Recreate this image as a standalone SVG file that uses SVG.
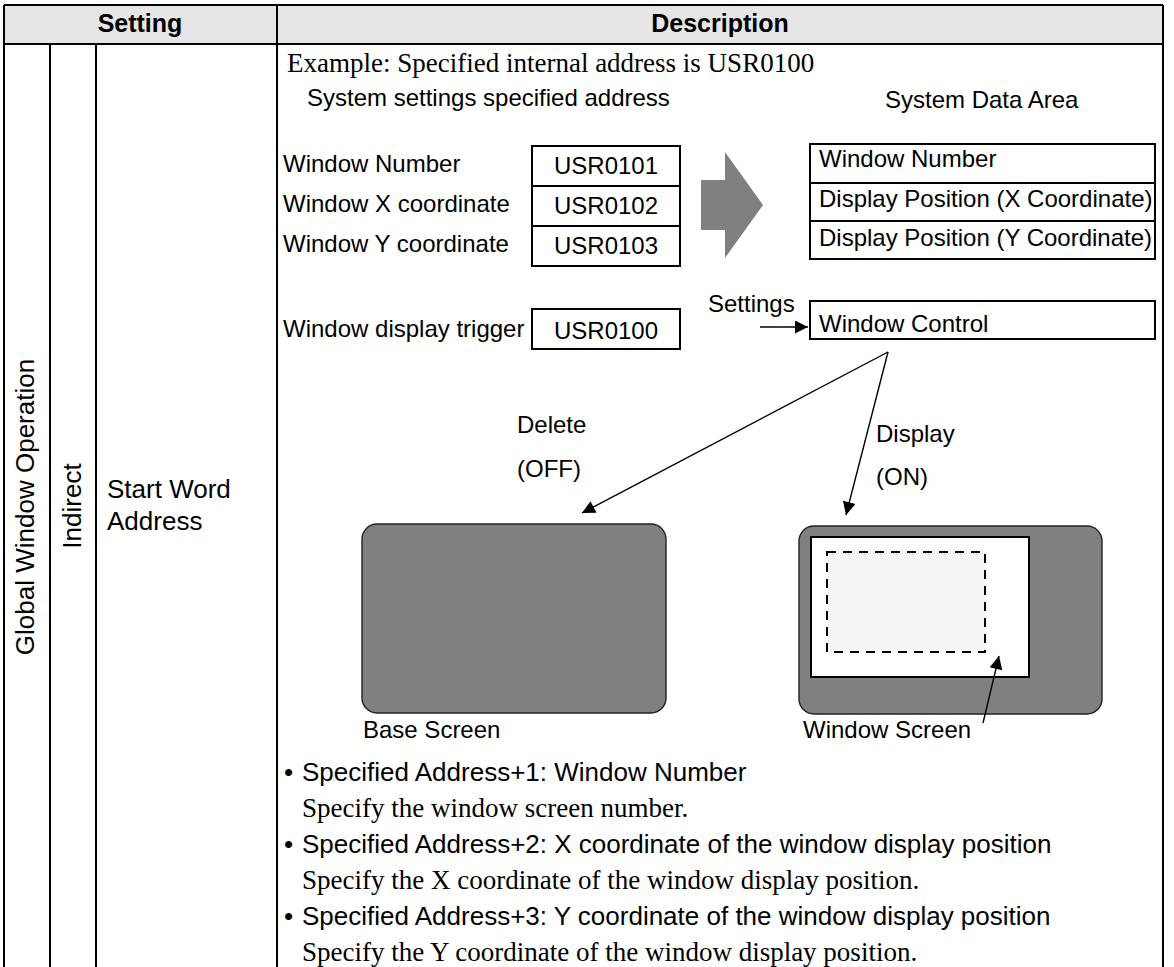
<svg xmlns="http://www.w3.org/2000/svg" width="1174" height="967" viewBox="0 0 1174 967">
<style>
.s{font-family:"Liberation Sans",Arial,sans-serif;font-size:24px;fill:#000}
.b{font-family:"Liberation Sans",Arial,sans-serif;font-size:26px;fill:#000}
.sl{font-family:"Liberation Sans",Arial,sans-serif;font-size:26px;fill:#000}
.h{font-family:"Liberation Sans",Arial,sans-serif;font-size:25px;font-weight:bold;fill:#000}
.r{font-family:"Liberation Serif","Times New Roman",serif;font-size:27px;fill:#000}
.tl{stroke:#000;stroke-width:2;fill:none}
.box{stroke:#000;stroke-width:2;fill:#fff}
.con{stroke:#000;stroke-width:1.4;fill:none}
.scr{fill:#808080;stroke:#222;stroke-width:1.4}
</style>
<defs>
<marker id="ah" viewBox="0 0 10 10" refX="10" refY="5" markerWidth="17" markerHeight="13" markerUnits="userSpaceOnUse" orient="auto"><path d="M0,0 L10,5 L0,10 z" fill="#000"/></marker>
</defs>
<rect width="1174" height="967" fill="#fff"/>
<g id="table">
<rect x="4" y="5" width="1159" height="39" fill="#e6e6e6"/>
<path class="tl" d="M4,5 H1163 M4,44 H1163 M4,5 V967 M1163,5 V967 M277,5 V967 M50,44 V967 M96,44 V967"/>
<text class="h" x="140" y="32" text-anchor="middle">Setting</text>
<text class="h" x="720" y="32" text-anchor="middle">Description</text>
<text class="sl" transform="translate(34,507) rotate(-90)" text-anchor="middle">Global Window Operation</text>
<text class="sl" transform="translate(81,506) rotate(-90)" text-anchor="middle">Indirect</text>
<text class="sl" x="107" y="498">Start Word</text>
<text class="sl" x="107" y="530">Address</text>
</g>
<g id="heading">
<text class="r" x="287" y="72">Example: Specified internal address is USR0100</text>
<text class="s" x="307" y="106">System settings specified address</text>
<text class="s" x="885" y="108">System Data Area</text>
</g>
<g id="specified-address">
<text class="s" x="283" y="172">Window Number</text>
<text class="s" x="283" y="212">Window X coordinate</text>
<text class="s" x="283" y="252">Window Y coordinate</text>
<rect class="box" x="532" y="146" width="148" height="40"/>
<rect class="box" x="532" y="186" width="148" height="40"/>
<rect class="box" x="532" y="226" width="148" height="40"/>
<text class="s" x="606" y="174" text-anchor="middle">USR0101</text>
<text class="s" x="606" y="214" text-anchor="middle">USR0102</text>
<text class="s" x="606" y="254" text-anchor="middle">USR0103</text>
</g>
<g id="trigger">
<text class="s" x="283" y="337">Window display trigger</text>
<rect class="box" x="532" y="309" width="148" height="40"/>
<text class="s" x="606" y="339" text-anchor="middle">USR0100</text>
</g>
<g id="big-arrow">
<path d="M701,180 H725 V152 L763,205 L725,258 V230 H701 Z" fill="#808080"/>
</g>
<g id="system-data-area">
<rect class="box" x="810" y="144" width="345" height="39"/>
<rect class="box" x="810" y="183" width="345" height="38"/>
<rect class="box" x="810" y="221" width="345" height="38"/>
<text class="s" x="819" y="167">Window Number</text>
<text class="s" x="819" y="207">Display Position (X Coordinate)</text>
<text class="s" x="819" y="246">Display Position (Y Coordinate)</text>
</g>
<g id="window-control">
<rect class="box" x="810" y="301" width="345" height="38"/>
<text class="s" x="819" y="332">Window Control</text>
</g>
<g id="base-screen">
<rect class="scr" x="362" y="524" width="304" height="189" rx="15"/>
<text class="s" x="363" y="738">Base Screen</text>
</g>
<g id="window-screen">
<rect class="scr" x="799" y="526" width="303" height="188" rx="15"/>
<rect x="811" y="537" width="218" height="140" fill="#fff" stroke="#000" stroke-width="2"/>
<rect x="827" y="552" width="158" height="100" fill="#f5f5f5" stroke="#000" stroke-width="2" stroke-dasharray="9,7"/>
<text class="s" x="803" y="738">Window Screen</text>
</g>
<g id="connectors">
<line class="con" x1="760" y1="327" x2="808" y2="327" marker-end="url(#ah)"/>
<line class="con" x1="888" y1="352" x2="582" y2="513" marker-end="url(#ah)"/>
<line class="con" x1="888" y1="352" x2="846" y2="515" marker-end="url(#ah)"/>
<line class="con" x1="983" y1="723" x2="999" y2="656" marker-end="url(#ah)"/>
<text class="s" x="708" y="312">Settings</text>
<text class="s" x="517" y="433">Delete</text>
<text class="s" x="517" y="477">(OFF)</text>
<text class="s" x="876" y="442">Display</text>
<text class="s" x="876" y="485">(ON)</text>
</g>
<g id="notes">
<text class="b" x="284" y="781">•</text>
<text class="b" x="302" y="781">Specified Address+1: Window Number</text>
<text class="r" x="302" y="817">Specify the window screen number.</text>
<text class="b" x="284" y="853">•</text>
<text class="b" x="302" y="853">Specified Address+2: X coordinate of the window display position</text>
<text class="r" x="302" y="889">Specify the X coordinate of the window display position.</text>
<text class="b" x="284" y="925">•</text>
<text class="b" x="302" y="925">Specified Address+3: Y coordinate of the window display position</text>
<text class="r" x="302" y="961">Specify the Y coordinate of the window display position.</text>
</g>
</svg>
